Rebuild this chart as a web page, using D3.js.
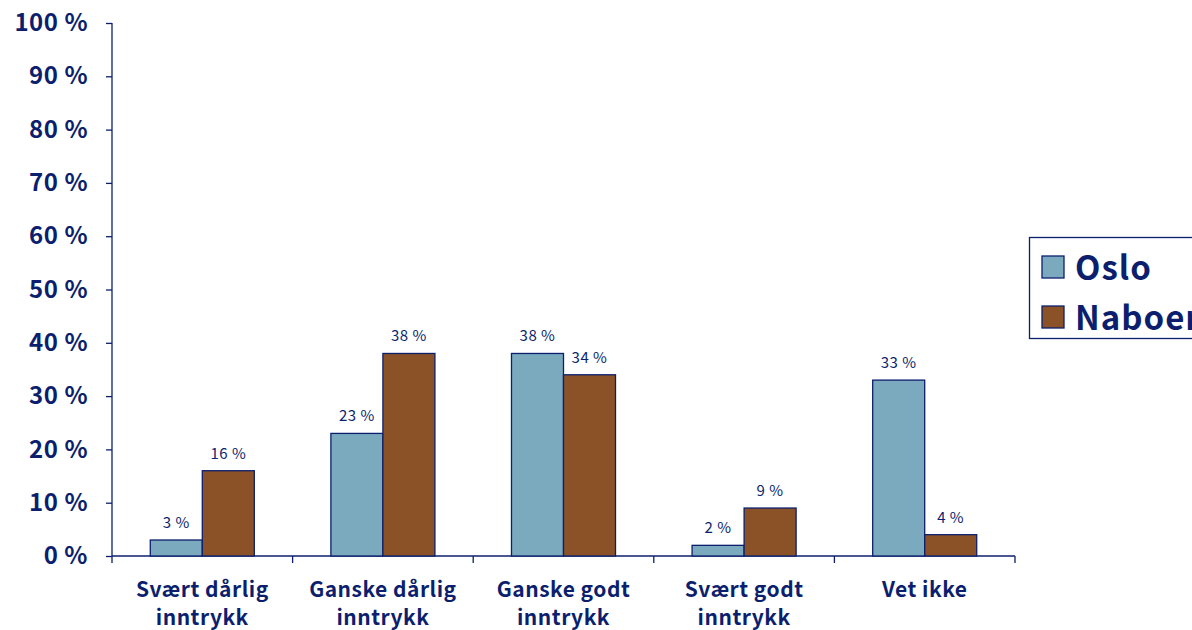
<!DOCTYPE html>
<html>
<head>
<meta charset="utf-8">
<script src="https://cdn.jsdelivr.net/npm/d3@7"></script>
<style>
  body { margin: 0; background: #fff; }
  svg { display: block; }
</style>
</head>
<body>
<svg width="1192" height="630"></svg>
<script>
const kategorier = [["Svært dårlig", "inntrykk"], ["Ganske dårlig", "inntrykk"], ["Ganske godt", "inntrykk"], ["Svært godt", "inntrykk"], ["Vet ikke"]];
const serier = ["Oslo", "Naboer"];
const oslo = [3, 23, 38, 2, 33];
const naboer = [16, 38, 34, 9, 4];
const yTicks = [0, 10, 20, 30, 40, 50, 60, 70, 80, 90, 100];

const farger = { Oslo: "#7baabf", Naboer: "#8b5228" };
const navy = "#0c1f6e";
const font = "'Noto Sans CJK JP', 'DejaVu Sans', sans-serif";

const svg = d3.select("svg");
const pL = 112, pR = 1015, pT = 23, pB = 556;

const y = d3.scaleLinear().domain([0, 100]).range([pB, pT]);
const x0 = d3.scaleBand().domain(d3.range(kategorier.length)).range([pL, pR])
  .paddingInner(0.424).paddingOuter(0.212);
const x1 = d3.scaleBand().domain(serier).range([0, x0.bandwidth()]);

// y-akse
const yAxis = svg.append("g")
  .attr("transform", `translate(${pL},0)`)
  .call(d3.axisLeft(y).tickValues(yTicks).tickSize(6).tickPadding(18).tickFormat(d => d + " %"));
yAxis.selectAll("line, path").attr("stroke", navy).attr("stroke-width", 1.3);
yAxis.select("path").attr("d", `M0,${pB}V${pT}`);
yAxis.selectAll("text")
  .attr("fill", navy)
  .style("font", `bold 24px ${font}`)
  .style("letter-spacing", "0.5px");

// x-akse
const xTicks = d3.range(kategorier.length + 1).map(i => pL + i * (pR - pL) / kategorier.length);
svg.append("line")
  .attr("x1", pL).attr("x2", pR).attr("y1", pB).attr("y2", pB)
  .attr("stroke", navy).attr("stroke-width", 1.3);
svg.selectAll(".xtick")
  .data(xTicks)
  .join("line")
  .attr("x1", d => d).attr("x2", d => d)
  .attr("y1", pB).attr("y2", pB + 7)
  .attr("stroke", navy).attr("stroke-width", 1.3);

// søyler
const data = kategorier.map((k, i) => ({ i, verdier: [{ s: "Oslo", v: oslo[i] }, { s: "Naboer", v: naboer[i] }] }));
const grp = svg.selectAll(".grp")
  .data(data)
  .join("g")
  .attr("transform", d => `translate(${x0(d.i)},0)`);

grp.selectAll("rect")
  .data(d => d.verdier)
  .join("rect")
  .attr("x", d => x1(d.s))
  .attr("width", x1.bandwidth())
  .attr("y", d => y(d.v))
  .attr("height", d => y(0) - y(d.v))
  .attr("fill", d => farger[d.s])
  .attr("stroke", navy)
  .attr("stroke-width", 1.3);

grp.selectAll(".lbl")
  .data(d => d.verdier)
  .join("text")
  .attr("x", d => x1(d.s) + x1.bandwidth() / 2)
  .attr("y", d => y(d.v) - 12)
  .attr("text-anchor", "middle")
  .attr("fill", navy)
  .style("font", `15px ${font}`)
  .style("letter-spacing", "0.5px")
  .text(d => d.v + " %");

// kategorietiketter
svg.selectAll(".kat")
  .data(kategorier)
  .join("text")
  .attr("text-anchor", "middle")
  .attr("fill", navy)
  .style("font", `bold 21px ${font}`)
  .style("letter-spacing", "0.5px")
  .each(function(d, i) {
    const cx = x0(i) + x0.bandwidth() / 2;
    d3.select(this).selectAll("tspan")
      .data(d)
      .join("tspan")
      .attr("x", cx)
      .attr("y", (t, j) => 597 + j * 28)
      .text(t => t);
  });

// legende
const leg = svg.append("g");
leg.append("rect")
  .attr("x", 1029.5).attr("y", 237.5).attr("width", 180).attr("height", 101)
  .attr("fill", "#fff").attr("stroke", navy).attr("stroke-width", 1.3);
serier.forEach((s, i) => {
  leg.append("rect")
    .attr("x", 1042).attr("y", 256 + i * 50).attr("width", 22).attr("height", 22)
    .attr("fill", farger[s]).attr("stroke", navy).attr("stroke-width", 1.3);
  leg.append("text")
    .attr("x", 1075).attr("y", 280 + i * 50)
    .attr("fill", navy)
    .style("font", `bold 33px ${font}`)
    .style("letter-spacing", "1px")
    .text(s);
});
</script>
</body>
</html>
